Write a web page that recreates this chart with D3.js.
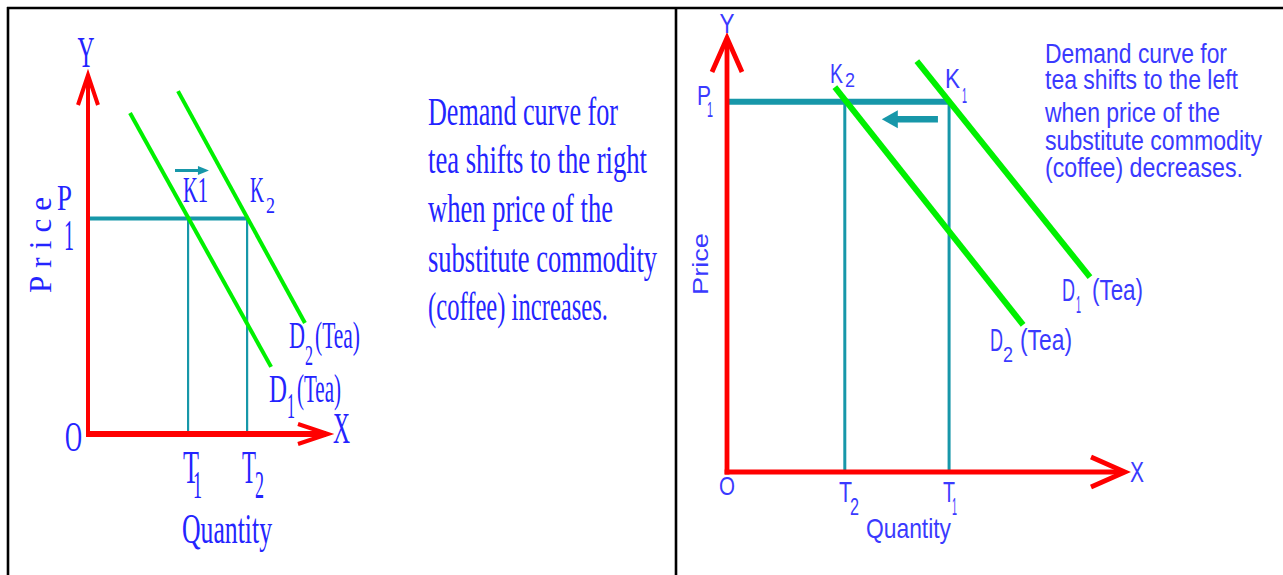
<!DOCTYPE html>
<html><head><meta charset="utf-8">
<script src="https://cdn.jsdelivr.net/npm/d3@7"></script>
<style>html,body{margin:0;padding:0;background:#fff;overflow:hidden}</style>
</head><body>
<script>
// ---------- data (abstract units 0..100 on each panel's axes) ----------
const leftD1 = [[17.5, 89.4], [76.3, 18.7]];
const leftD2 = [[37.5, 95.5], [90.4, 30.9]];
const leftPrice = 60;
const leftQty = [41.7, 66.3];          // T1, T2
const leftShift = [36.25, 50.4, 73.4]; // from x, to x, at y

const rightD1 = [[47.7, 94.7], [91.2, 44.9]];
const rightD2 = [[27.1, 88.7], [74.4, 33.9]];
const rightPrice = 85.3;
const rightQty = [55.8, 29.6];           // T1, T2
const rightShift = [53.0, 38.9, 81.3];   // from x, to x, at y

const leftNote = ["Demand curve for", "tea shifts to the right", "when price of the",
                  "substitute commodity", "(coffee) increases."];
const rightNote = ["Demand curve for", "tea shifts to the left", "when price of the",
                   "substitute commodity", "(coffee) decreases."];

// ---------- setup ----------
const W = 1283, H = 575;
const svg = d3.select("body").append("svg").attr("width", W).attr("height", H);
const RED = "#ff0000", GREEN = "#00f000", TEAL = "#1797a9", BLUE_L = "#2424ff", BLUE_R = "#3a3aff";
const SERIF = "'Liberation Serif', 'DejaVu Serif', serif";
const SANS = "'Liberation Sans', Arial, sans-serif";

const xL = d3.scaleLinear([0, 100], [88, 328]);
const yL = d3.scaleLinear([0, 100], [434, 75]);
const xR = d3.scaleLinear([0, 100], [727, 1125]);
const yR = d3.scaleLinear([0, 100], [472, 38]);

// frame
const frame = svg.append("g").attr("stroke", "#000").attr("stroke-width", 2.6);
frame.append("line").attr("x1", 7).attr("y1", 8).attr("x2", W).attr("y2", 8);
frame.append("line").attr("x1", 8).attr("y1", 7).attr("x2", 8).attr("y2", H);
frame.append("line").attr("x1", 676).attr("y1", 7).attr("x2", 676).attr("y2", H);

function txt(g, s, x, y, fs, len, family, color, anchor, transform, adjust) {
  const t = g.append("text").text(s).attr("font-family", family).attr("font-size", fs)
    .attr("fill", color).attr("text-anchor", anchor || "start")
    .attr("textLength", len).attr("lengthAdjust", adjust || "spacingAndGlyphs");
  if (transform) t.attr("transform", transform); else t.attr("x", x).attr("y", y);
  return t;
}

function panel(opts) {
  const {x, y, d1, d2, price, qty, shift, axW, axXW, wing, greenW, hW, vW, arrowW, head} = opts;
  const g = svg.append("g");
  // reference lines (teal)
  g.append("line").attr("x1", x(0)).attr("x2", x(d3.max(qty))).attr("y1", y(price)).attr("y2", y(price))
    .attr("stroke", TEAL).attr("stroke-width", hW);
  g.selectAll(".vq").data(qty).join("line")
    .attr("x1", d => x(d)).attr("x2", d => x(d)).attr("y1", y(price)).attr("y2", y(0))
    .attr("stroke", TEAL).attr("stroke-width", vW);
  // demand curves
  const line = d3.line().x(d => x(d[0])).y(d => y(d[1]));
  g.selectAll(".dc").data([d1, d2]).join("path").attr("d", line)
    .attr("fill", "none").attr("stroke", GREEN).attr("stroke-width", greenW);
  // shift arrow
  const [sx0, sx1, sy] = shift;
  const dir = Math.sign(sx1 - sx0);
  g.append("line").attr("x1", x(sx0)).attr("x2", x(sx1) - dir * head[0]).attr("y1", y(sy)).attr("y2", y(sy))
    .attr("stroke", TEAL).attr("stroke-width", arrowW);
  g.append("path").attr("fill", TEAL)
    .attr("d", `M${x(sx1)},${y(sy)} L${x(sx1) - dir * head[0] - dir},${y(sy) - head[1]} L${x(sx1) - dir * head[0] - dir},${y(sy) + head[1]} Z`);
  // axes (red)
  const ax = g.append("g").attr("stroke", RED).attr("fill", "none").attr("stroke-linecap", "butt");
  ax.append("line").attr("x1", x(0)).attr("x2", x(0)).attr("y1", y(0) + axXW / 2).attr("y2", y(100) + 2).attr("stroke-width", axW);
  ax.append("line").attr("x1", x(0) - axW / 2).attr("x2", x(100) - 2).attr("y1", y(0)).attr("y2", y(0)).attr("stroke-width", axXW);
  ax.append("path").attr("stroke-width", axW)
    .attr("d", `M${x(0) - wing[0]},${y(100) + wing[1]} L${x(0)},${y(100)} L${x(0) + wing[0]},${y(100) + wing[1]}`);
  ax.append("path").attr("stroke-width", axW)
    .attr("d", `M${x(100) - wing[1]},${y(0) - wing[0]} L${x(100)},${y(0)} L${x(100) - wing[1]},${y(0) + wing[0]}`);
  return g;
}

// ---------- left panel ----------
const gl = panel({x: xL, y: yL, d1: leftD1, d2: leftD2, price: leftPrice, qty: leftQty, shift: leftShift,
  axW: 4, axXW: 6, wing: [10, 30], greenW: 4, hW: 4, vW: 2.2, arrowW: 3, head: [10, 4.5]});
const S = SERIF, BL = BLUE_L;
txt(gl, "Y", xL(0) - 2, 67, 44, 17, S, BL, "middle");
txt(gl, "P", 57, 210, 36, 15, S, BL);
txt(gl, "1", 64, 250, 44, 10, S, BL);
txt(gl, "Price", 0, 0, 31, 96, S, BL, "start", "translate(51,293) rotate(-90)", "spacing");
txt(gl, "K1", 183, 202, 36, 25, S, BL);
txt(gl, "K", 250, 202, 36, 14, S, BL);
txt(gl, "2", 266, 213, 24, 9, S, BL);
txt(gl, "O", 65, 451, 42, 17, S, BL);
txt(gl, "X", 333, 443, 44, 17, S, BL);
txt(gl, "T", 183, 483, 46, 16, S, BL);
txt(gl, "1", 193, 498, 40, 9, S, BL);
txt(gl, "T", 242, 483, 46, 14, S, BL);
txt(gl, "2", 255, 498, 40, 9, S, BL);
txt(gl, "Quantity", 182, 543, 42, 90, S, BL);
txt(gl, "D", 289, 348, 38, 16, S, BL);
txt(gl, "2", 305, 365, 29, 8, S, BL);
txt(gl, "(Tea)", 315, 348, 38, 45, S, BL);
txt(gl, "D", 269, 402, 40, 18, S, BL);
txt(gl, "1", 287, 418, 36, 8, S, BL);
txt(gl, "(Tea)", 297, 402, 40, 44, S, BL);
const leftBase = [125, 173, 222, 272, 320], leftLen = [190, 219, 185, 229, 180];
leftNote.forEach((s, i) => txt(gl, s, 428, leftBase[i], 40, leftLen[i], S, BL));

// ---------- right panel ----------
const gr = panel({x: xR, y: yR, d1: rightD1, d2: rightD2, price: rightPrice, qty: rightQty, shift: rightShift,
  axW: 4.8, axXW: 5, wing: [15, 34], greenW: 6, hW: 6, vW: 3, arrowW: 6.5, head: [15, 9]});
const F = SANS, BR = BLUE_R;
txt(gr, "Y", xR(0), 33, 28, 15, F, BR, "middle");
txt(gr, "P", 697, 105, 27, 14, F, BR);
txt(gr, "1", 707, 117, 22, 6, F, BR);
txt(gr, "Price", 0, 0, 22, 62, F, BR, "start", "translate(708,295) rotate(-90)");
txt(gr, "K", 830, 83, 27, 13, F, BR);
txt(gr, "2", 845, 87, 21, 10, F, BR);
txt(gr, "K", 945, 88, 27, 15, F, BR);
txt(gr, "1", 962, 103, 22, 5, F, BR);
txt(gr, "O", xR(0), 495, 25, 16, F, BR, "middle");
txt(gr, "T", 839, 502, 30, 13, F, BR);
txt(gr, "2", 850, 515, 24, 9, F, BR);
txt(gr, "T", 943, 502, 30, 12, F, BR);
txt(gr, "1", 952, 515, 24, 5, F, BR);
txt(gr, "Quantity", 866, 538, 28, 85, F, BR);
txt(gr, "X", 1130, 482, 29, 14, F, BR);
txt(gr, "D", 1062, 301, 31, 13, F, BR);
txt(gr, "1", 1076, 313, 24, 5, F, BR);
txt(gr, "(Tea)", 1092, 300, 30, 51, F, BR);
txt(gr, "D", 990, 351, 31, 13, F, BR);
txt(gr, "2", 1003, 362, 22, 10, F, BR);
txt(gr, "(Tea)", 1020, 350, 30, 52, F, BR);
const rightBase = [63, 89, 122, 150, 177], rightLen = [182, 193, 175, 217, 198];
rightNote.forEach((s, i) => txt(gr, s, 1045, rightBase[i], 27, rightLen[i], F, BR));
</script>
</body></html>
